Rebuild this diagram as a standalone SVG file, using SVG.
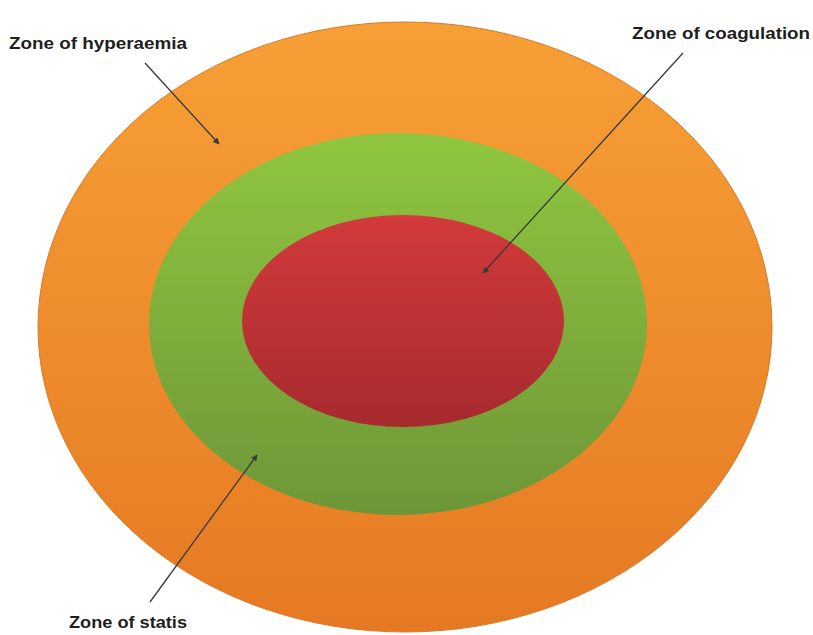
<svg xmlns="http://www.w3.org/2000/svg" width="813" height="635" viewBox="0 0 813 635">
<defs>
<linearGradient id="gOrange" x1="0" y1="0" x2="0" y2="1"><stop offset="0" stop-color="#F7A036"/><stop offset="1" stop-color="#E57923"/></linearGradient>
<linearGradient id="gGreen" x1="0" y1="0" x2="0" y2="1"><stop offset="0" stop-color="#90C63F"/><stop offset="1" stop-color="#6E9638"/></linearGradient>
<linearGradient id="gRed" x1="0" y1="0" x2="0" y2="1"><stop offset="0" stop-color="#D23A3B"/><stop offset="1" stop-color="#A62A2E"/></linearGradient>
<marker id="arr" viewBox="0 0 10 10" refX="9" refY="5" markerWidth="5" markerHeight="5" orient="auto"><path d="M0,0 L10,5 L0,10 z" fill="#3a3a3a"/></marker>
</defs>
<style>
.lbl{font-family:"Liberation Sans Narrow","Liberation Sans",Arial,sans-serif;font-weight:bold;font-size:16px;fill:#1e1e1e;}
.conn{stroke:#3a3a3a;stroke-width:1.3;fill:none;marker-end:url(#arr);}
</style>
<rect width="813" height="635" fill="#fff"/>
<g id="hyperaemia"><ellipse cx="405" cy="327" rx="367" ry="305" fill="url(#gOrange)" stroke="#D87A2A" stroke-width="1"/></g>
<g id="statis"><ellipse cx="398" cy="324" rx="249" ry="191" fill="url(#gGreen)"/></g>
<g id="coagulation"><ellipse cx="403" cy="321" rx="161" ry="106" fill="url(#gRed)"/></g>
<g id="connectors">
<line class="conn" x1="145" y1="63" x2="219" y2="144"/>
<line class="conn" x1="683" y1="53" x2="483" y2="273"/>
<line class="conn" x1="150" y1="602" x2="257" y2="455"/>
</g>
<g id="labels">
<text class="lbl" x="9" y="49" textLength="178" lengthAdjust="spacingAndGlyphs">Zone of hyperaemia</text>
<text class="lbl" x="632" y="39" textLength="178" lengthAdjust="spacingAndGlyphs">Zone of coagulation</text>
<text class="lbl" x="69" y="628" textLength="118" lengthAdjust="spacingAndGlyphs">Zone of statis</text>
</g>
</svg>
